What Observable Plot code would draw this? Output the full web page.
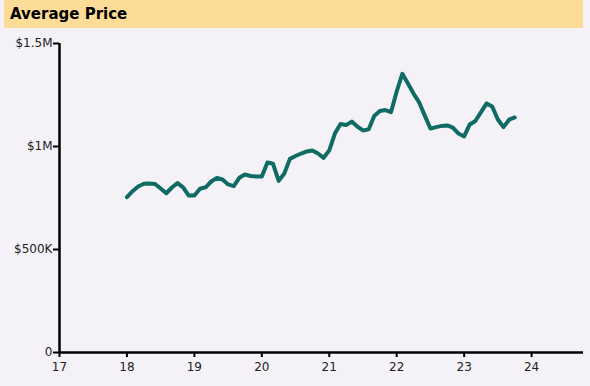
<!DOCTYPE html>
<html>
<head>
<meta charset="utf-8">
<script src="https://cdn.jsdelivr.net/npm/d3@7"></script>
<script src="https://cdn.jsdelivr.net/npm/@observablehq/plot@0.6"></script>
<style>
  html, body { margin: 0; padding: 0; background: #f4f2f7; width: 590px; height: 386px; overflow: hidden; }
  #title { margin-left: 4px; width: 573px; height: 28px; background: #fcdc96; font-family: "DejaVu Sans", Verdana, sans-serif; font-weight: bold; font-size: 15px; line-height: 29px; padding-left: 6px; color: #000; }
  #chart svg { display: block; }
</style>
</head>
<body>
<div id="title">Average Price</div>
<div id="chart"></div>
<script>
// Monthly average price, Jan 2018 – Oct 2023 (x = two-digit year)
const startYear = 18;
const prices = [
  754, 783, 806, 819, 820, 818, 796, 773, 801, 822, 802, 762,
  762, 795, 802, 830, 848, 840, 816, 808, 848, 864, 857, 854,
  854, 922, 916, 833, 869, 940, 954, 966, 976, 981, 966, 945,
  981, 1063, 1109, 1104, 1121, 1097, 1078, 1083, 1148, 1172, 1177, 1167,
  1267, 1353, 1306, 1257, 1214, 1150, 1087, 1094, 1100, 1102, 1092, 1063,
  1049, 1107, 1124, 1167, 1209, 1194, 1131, 1094, 1130, 1141
].map(k => k * 1000);
const xTicks = [17, 18, 19, 20, 21, 22, 23, 24];
const yTicks = [0, 500000, 1000000, 1500000];
const yTickLabels = ["0", "$500K", "$1M", "$1.5M"];

const data = prices.map((v, i) => ({ t: startYear + i / 12, v }));

const chart = Plot.plot({
  width: 590,
  height: 358,
  marginLeft: 59,
  marginRight: 7,
  marginTop: 15,
  marginBottom: 34,
  style: { background: "transparent", fontFamily: "'DejaVu Sans', Verdana, sans-serif", fontSize: "12px", color: "#222" },
  x: { domain: [17, 24.77] },
  y: { domain: [0, 1500000] },
  marks: [
    Plot.axisX({ ticks: xTicks, tickFormat: d => String(d), tickSize: 5, tickPadding: 5, label: null, stroke: "#000", strokeWidth: 2, fontSize: 12 }),
    Plot.axisY({ ticks: yTicks, tickFormat: d => yTickLabels[yTicks.indexOf(d)], tickSize: 6, tickPadding: 1, label: null, stroke: "#000", strokeWidth: 2, fontSize: 12 }),
    Plot.ruleX([17], { stroke: "#000", strokeWidth: 2.5 }),
    Plot.ruleY([0], { stroke: "#000", strokeWidth: 2.5 }),
    Plot.line(data, { x: "t", y: "v", stroke: "#0f6b63", strokeWidth: 4, strokeLinejoin: "round", strokeLinecap: "round" })
  ]
});
document.getElementById("chart").appendChild(chart);
</script>
</body>
</html>
